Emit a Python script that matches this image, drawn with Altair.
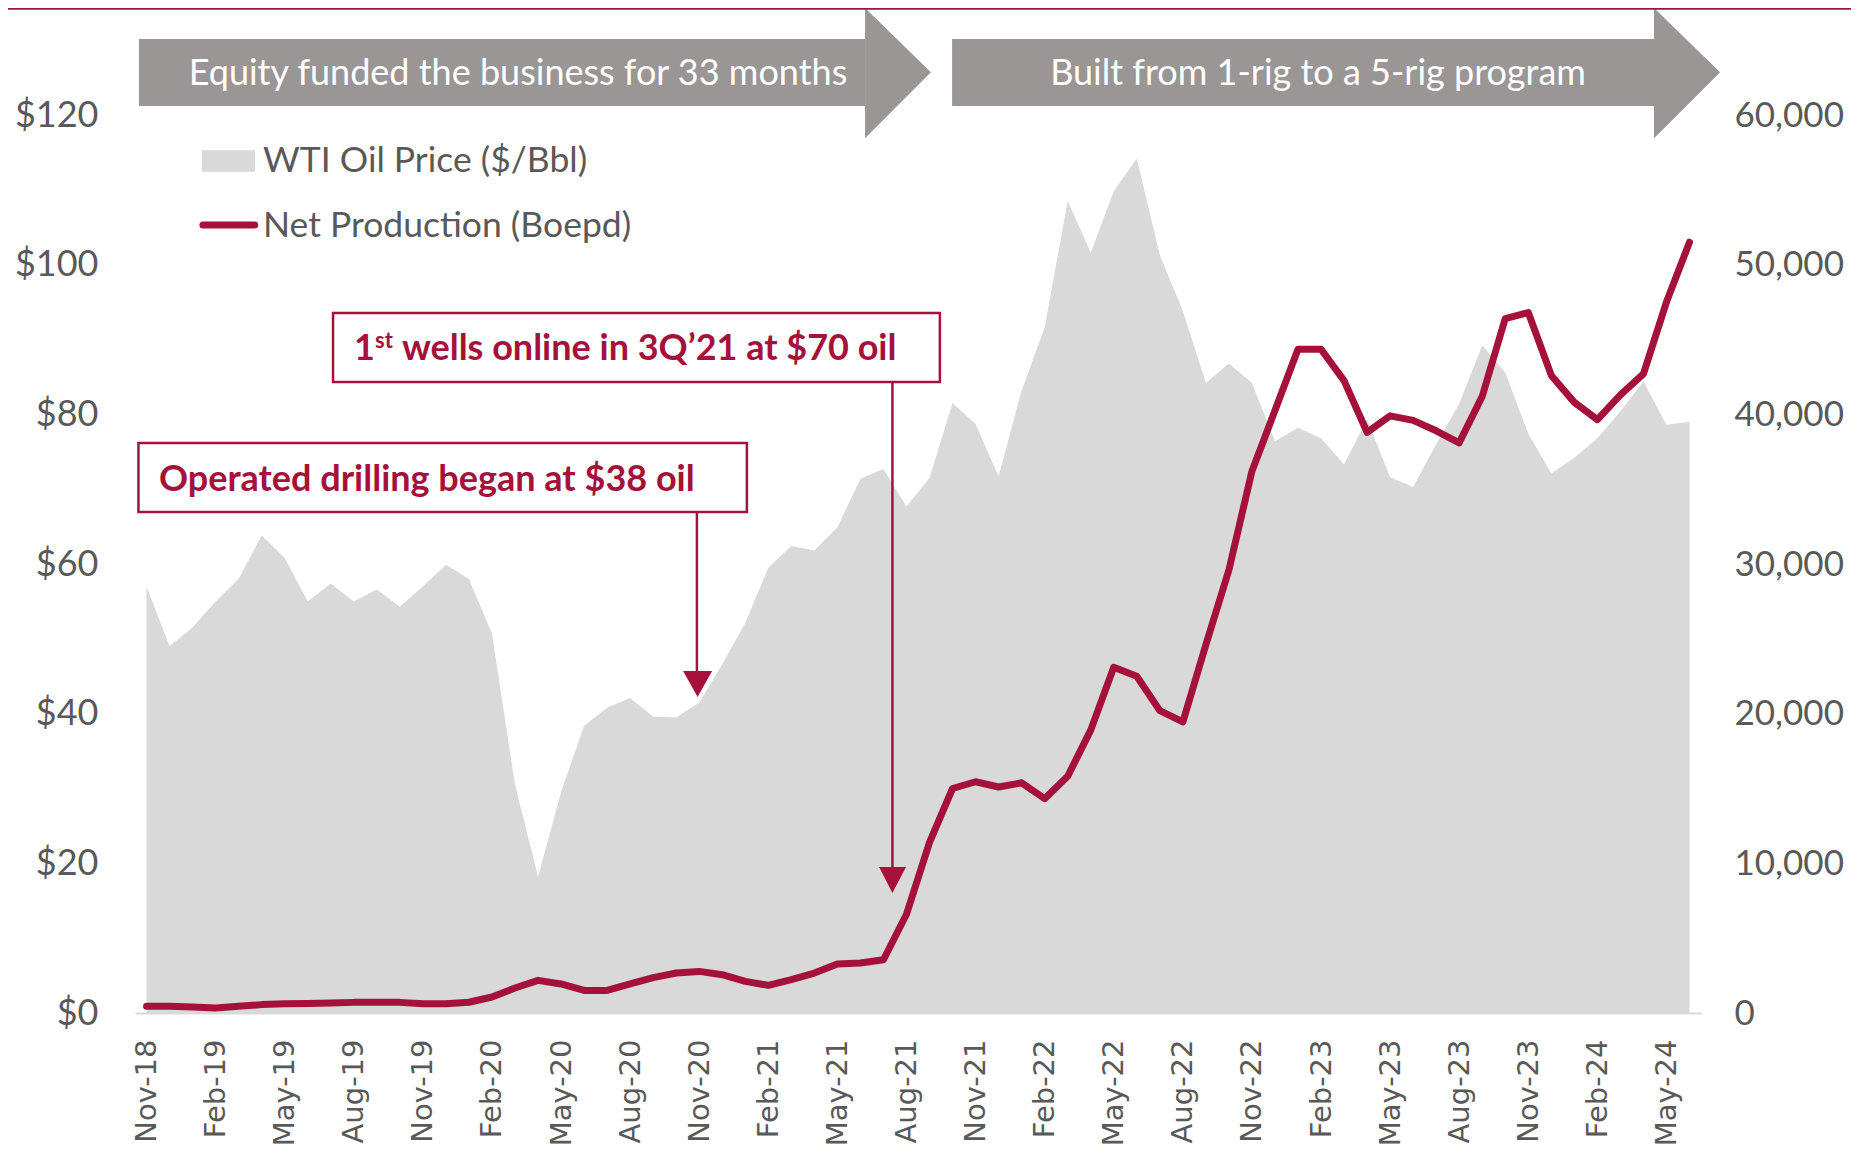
import altair as alt
import pandas as pd

# ---------------- data ----------------
months = list(pd.date_range("2018-11-01", periods=68, freq="MS").strftime("%b-%y"))

wti_price = [57.0, 49.0, 51.5, 55.0, 58.0, 63.8, 60.8, 55.0, 57.4, 55.0, 56.6, 54.3,
             57.0, 59.9, 58.0, 50.7, 30.5, 18.2, 29.5, 38.4, 40.8, 42.1, 39.6, 39.5,
             41.5, 46.6, 52.1, 59.5, 62.4, 61.8, 64.9, 71.4, 72.7, 67.7, 71.5, 81.5,
             78.7, 71.7, 83.2, 91.6, 108.5, 101.6, 109.8, 114.2, 101.3, 93.8, 84.2, 86.8,
             84.2, 76.4, 78.2, 76.8, 73.3, 79.3, 71.6, 70.3, 76.0, 81.4, 89.2, 85.6,
             77.4, 72.1, 74.2, 76.8, 80.4, 84.4, 78.6, 79.0]

net_production = [450, 450, 400, 330, 450, 560, 620, 630, 670, 710, 710, 710,
                  620, 620, 720, 1070, 1670, 2180, 1940, 1510, 1510, 1940, 2360, 2670,
                  2780, 2560, 2110, 1850, 2230, 2670, 3270, 3340, 3560, 6600, 11400, 15000,
                  15450, 15100, 15380, 14320, 15820, 18900, 23100, 22500, 20200, 19450, 24600, 29600,
                  36200, 40250, 44350, 44350, 42250, 38800, 39900, 39600, 38900, 38100, 41200, 46400,
                  46800, 42600, 40800, 39650, 41300, 42700, 47500, 51500]

tick_index = list(range(0, 68, 3))
price_ticks = [0, 20, 40, 60, 80, 100, 120]
prod_ticks = [0, 10000, 20000, 30000, 40000, 50000, 60000]

legend_labels = ["WTI Oil Price ($/Bbl)", "Net Production (Boepd)"]
banner_labels = ["Equity funded the business for 33 months", "Built from 1-rig to a 5-rig program"]
callout_labels = ["Operated drilling began at $38 oil", "wells online in 3Q\u201921 at $70 oil"]

df = pd.DataFrame({"i": list(range(len(months))), "month": months,
                   "wti": wti_price, "prod": net_production})

# ---------------- styles ----------------
CRIMSON = "#a6113c"
AREA = "#d9d9d9"
BANNER = "#9a9695"
LABEL = "#595959"
FONT = "Lato"
FS = 36

xs = alt.Scale(domain=[-0.5, 67.5], nice=False, zero=False)
ys = alt.Scale(domain=[0, 120], nice=False, zero=False)
ps = alt.Scale(domain=[0, 60000], nice=False, zero=False)

label_expr = "[" + ",".join("'%s'" % m for m in months) + "][datum.value]"
xaxis = alt.Axis(values=tick_index, labelExpr=label_expr, labelAngle=-90,
                 labelFont="DejaVu Sans", labelFontSize=29, labelColor=LABEL,
                 labelPadding=26, ticks=False, grid=False, domainColor=AREA,
                 domainWidth=2, title=None, labelOverlap=False, labelLimit=400)


def X(f):
    return alt.X(f, type="quantitative", scale=xs, axis=xaxis)


def Y(f):
    return alt.Y(f, type="quantitative", scale=ys, axis=None)


area = alt.Chart(df).mark_area(color=AREA, interpolate="linear").encode(
    x=X("i"),
    y=alt.Y("wti:Q", scale=ys,
            axis=alt.Axis(orient="left", values=price_ticks, labelExpr="'$' + datum.value",
                          labelFont=FONT, labelFontSize=FS, labelColor=LABEL, labelPadding=37,
                          domain=False, ticks=False, grid=False, title=None)),
)

line = alt.Chart(df).mark_line(color=CRIMSON, strokeWidth=7, strokeCap="round",
                               strokeJoin="round").encode(
    x=X("i"),
    y=alt.Y("prod:Q", scale=ps,
            axis=alt.Axis(orient="right", values=prod_ticks, format=",d",
                          labelFont=FONT, labelFontSize=35, labelColor=LABEL, labelPadding=33,
                          domain=False, ticks=False, grid=False, title=None)),
)

# ---------------- banners (arrows at top) ----------------
banner_body = pd.DataFrame({"x": [-0.33, 34.98], "x2": [31.2, 65.46],
                            "y": [130.15, 130.15], "y2": [121.2, 121.2]})
bodies = alt.Chart(banner_body).mark_rect(color=BANNER).encode(
    x=X("x"), x2="x2", y=Y("y"), y2="y2")

banner_head = pd.DataFrame({
    "g": [0, 0, 1, 1],
    "x": [31.2, 34.06, 65.46, 68.33],
    "y": [134.3, 125.7, 134.3, 125.7],
    "y2": [116.9, 125.7, 116.9, 125.7],
})
heads = alt.Chart(banner_head).mark_area(color=BANNER, orient="vertical").encode(
    x=X("x"), y=Y("y"), y2="y2", detail="g:N")

banner_text = pd.DataFrame({"x": [16.13, 50.87], "y": [124.0, 124.0], "t": banner_labels})
btext = alt.Chart(banner_text).mark_text(font=FONT, fontSize=FS, color="white",
                                          align="center", baseline="alphabetic").encode(
    x=X("x"), y=Y("y"), text="t:N")

# ---------------- legend ----------------
leg_rect = alt.Chart(pd.DataFrame({"x": [2.41], "x2": [4.71], "y": [115.3], "y2": [112.4]})
                     ).mark_rect(color=AREA).encode(x=X("x"), x2="x2", y=Y("y"), y2="y2")
leg_line = alt.Chart(pd.DataFrame({"x": [2.45], "x2": [4.7], "y": [105.3]})
                     ).mark_rule(color=CRIMSON, strokeWidth=7, strokeCap="round").encode(
    x=X("x"), x2="x2", y=Y("y"))
leg_text = alt.Chart(pd.DataFrame({"x": [5.06, 5.06], "y": [112.4, 103.7], "t": legend_labels})
                     ).mark_text(font=FONT, fontSize=35.5, color=LABEL, align="left",
                                 baseline="alphabetic").encode(x=X("x"), y=Y("y"), text="t:N")

# ---------------- callouts ----------------
boxes = alt.Chart(pd.DataFrame({"x": [-0.35, 8.10], "x2": [26.07, 34.45],
                                "y": [76.17, 93.54], "y2": [66.95, 84.32]})
                  ).mark_rect(fill="white", stroke=CRIMSON, strokeWidth=2.5).encode(
    x=X("x"), x2="x2", y=Y("y"), y2="y2")

stems = alt.Chart(pd.DataFrame({"x": [23.90, 32.39], "y": [66.95, 84.32], "y2": [45.2, 19.0]})
                  ).mark_rule(color=CRIMSON, strokeWidth=2.5).encode(
    x=X("x"), y=Y("y"), y2="y2")

tips = alt.Chart(pd.DataFrame({
    "g": [0, 0, 0, 1, 1, 1],
    "x": [23.30, 23.93, 24.56, 31.81, 32.39, 32.98],
    "y": [45.70, 45.70, 45.70, 19.51, 19.51, 19.51],
    "y2": [45.70, 42.23, 45.70, 19.51, 16.04, 19.51],
})).mark_area(color=CRIMSON, orient="vertical").encode(
    x=X("x"), y=Y("y"), y2="y2", detail="g:N")

call_text = alt.Chart(pd.DataFrame({"x": [0.54, 11.09], "y": [69.76, 87.26], "t": callout_labels})
                      ).mark_text(font=FONT, fontSize=FS, fontWeight="bold", color=CRIMSON,
                                  align="left", baseline="alphabetic").encode(
    x=X("x"), y=Y("y"), text="t:N")
one_text = alt.Chart(pd.DataFrame({"x": [9.01], "y": [87.26], "t": ["1"]})
                     ).mark_text(font=FONT, fontSize=FS, fontWeight="bold", color=CRIMSON,
                                 align="left", baseline="alphabetic").encode(
    x=X("x"), y=Y("y"), text="t:N")
sup_text = alt.Chart(pd.DataFrame({"x": [9.92], "y": [88.86], "t": ["st"]})
                     ).mark_text(font=FONT, fontSize=22, fontWeight="bold", color=CRIMSON,
                                 align="left", baseline="alphabetic").encode(
    x=X("x"), y=Y("y"), text="t:N")

top_rule = alt.Chart(pd.DataFrame({"x": [-6.1], "x2": [74.5], "y": [134.2]})
                     ).mark_rule(color=CRIMSON, strokeWidth=2).encode(
    x=X("x"), x2="x2", y=Y("y"))

chart = alt.layer(
    area, line, bodies, heads, btext, leg_rect, leg_line, leg_text,
    boxes, stems, tips, call_text, one_text, sup_text, top_rule,
).resolve_scale(y="independent").properties(
    width=1566, height=898,
    padding={"left": 127, "top": 107, "right": 150, "bottom": 135},
    autosize=alt.AutoSizeParams(type="none"),
    background="white",
).configure_view(stroke=None)

chart.save("out.html", embed_options={"renderer": "svg", "actions": False})
